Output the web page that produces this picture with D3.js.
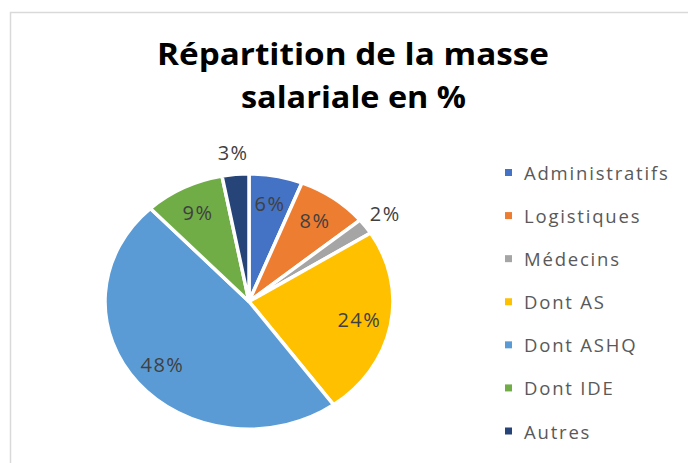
<!DOCTYPE html>
<html>
<head>
<meta charset="utf-8">
<script src="https://cdn.jsdelivr.net/npm/d3@7"></script>
<style>
  body { margin: 0; background: #fff; }
  svg { display: block; }
</style>
</head>
<body>
<div id="chart"></div>
<script>
const categories = ["Administratifs", "Logistiques", "Médecins", "Dont AS", "Dont ASHQ", "Dont IDE", "Autres"];
const shares = [6, 8, 2, 24, 48, 9, 3];
const colors = ["#4472C4", "#ED7D31", "#A5A5A5", "#FFC000", "#5B9BD5", "#70AD47", "#264478"];
const titleLines = ["Répartition de la masse", "salariale en %"];

const width = 688;
const height = 463;

// pie is drawn a bit wider than tall, as in the picture
const cx = 249, cy = 301.5;
const ry = 127.7, rx = 144;
const sx = rx / ry;

const svg = d3.select("#chart")
    .append("svg")
    .attr("width", width)
    .attr("height", height);

// chart area border (runs off the right and bottom edges)
svg.append("rect")
    .attr("x", 10.5)
    .attr("y", 12.5)
    .attr("width", 700)
    .attr("height", 470)
    .attr("fill", "#fff")
    .attr("stroke", "#d9d9d9")
    .attr("stroke-width", 1.5);

const titleRows = [
    { text: titleLines[0], x: 353, y: 65, len: 392 },
    { text: titleLines[1], x: 353.5, y: 108, len: 225 }
];

svg.selectAll(".title-line")
    .data(titleRows)
    .enter()
    .append("text")
    .attr("class", "title-line")
    .attr("x", d => d.x)
    .attr("y", d => d.y)
    .attr("text-anchor", "middle")
    .attr("textLength", d => d.len)
    .attr("lengthAdjust", "spacingAndGlyphs")
    .style("font-family", "'Open Sans', sans-serif")
    .style("font-weight", "bold")
    .style("font-size", "31px")
    .attr("fill", "#000")
    .text(d => d.text);

const data = categories.map((name, i) => ({ name, value: shares[i], color: colors[i] }));

const pie = d3.pie()
    .value(d => d.value)
    .sort(null);

const arcs = pie(data);

const arc = d3.arc()
    .innerRadius(0)
    .outerRadius(ry);

const pieGroup = svg.append("g")
    .attr("transform", `translate(${cx},${cy}) scale(${sx},1)`);

pieGroup.selectAll("path")
    .data(arcs)
    .enter()
    .append("path")
    .attr("d", arc)
    .attr("fill", d => d.data.color)
    .attr("stroke", "#fff")
    .attr("stroke-width", 3.5)
    .attr("vector-effect", "non-scaling-stroke")
    .attr("stroke-linejoin", "round");

// labels: inside for big slices, just outside for the small ones
const labelPos = d => {
    const a = (d.startAngle + d.endAngle) / 2;
    const r = d.data.value < 4 ? ry * 1.17 : ry * 0.78;
    return [cx + sx * r * Math.sin(a), cy - r * Math.cos(a)];
};

svg.selectAll(".slice-label")
    .data(arcs)
    .enter()
    .append("text")
    .attr("class", "slice-label")
    .attr("x", d => labelPos(d)[0])
    .attr("y", d => labelPos(d)[1])
    .attr("dy", "0.36em")
    .attr("text-anchor", "middle")
    .style("font-family", "'Open Sans', sans-serif")
    .style("font-size", "20px")
    .style("letter-spacing", "1.5px")
    .attr("fill", "#404040")
    .text(d => d.data.value + "%");

// legend
const legendY = d3.scaleLinear()
    .domain([0, categories.length - 1])
    .range([172.5, 431]);

const legend = svg.selectAll(".legend-item")
    .data(data)
    .enter()
    .append("g")
    .attr("class", "legend-item")
    .attr("transform", (d, i) => `translate(505,${legendY(i)})`);

legend.append("rect")
    .attr("x", 0)
    .attr("y", -3.5)
    .attr("width", 7)
    .attr("height", 7)
    .attr("fill", d => d.color);

legend.append("text")
    .attr("x", 19)
    .attr("y", 7.5)
    .style("font-family", "'Open Sans', sans-serif")
    .style("font-size", "18.5px")
    .style("letter-spacing", "1.8px")
    .attr("fill", "#595959")
    .text(d => d.name);
</script>
</body>
</html>
